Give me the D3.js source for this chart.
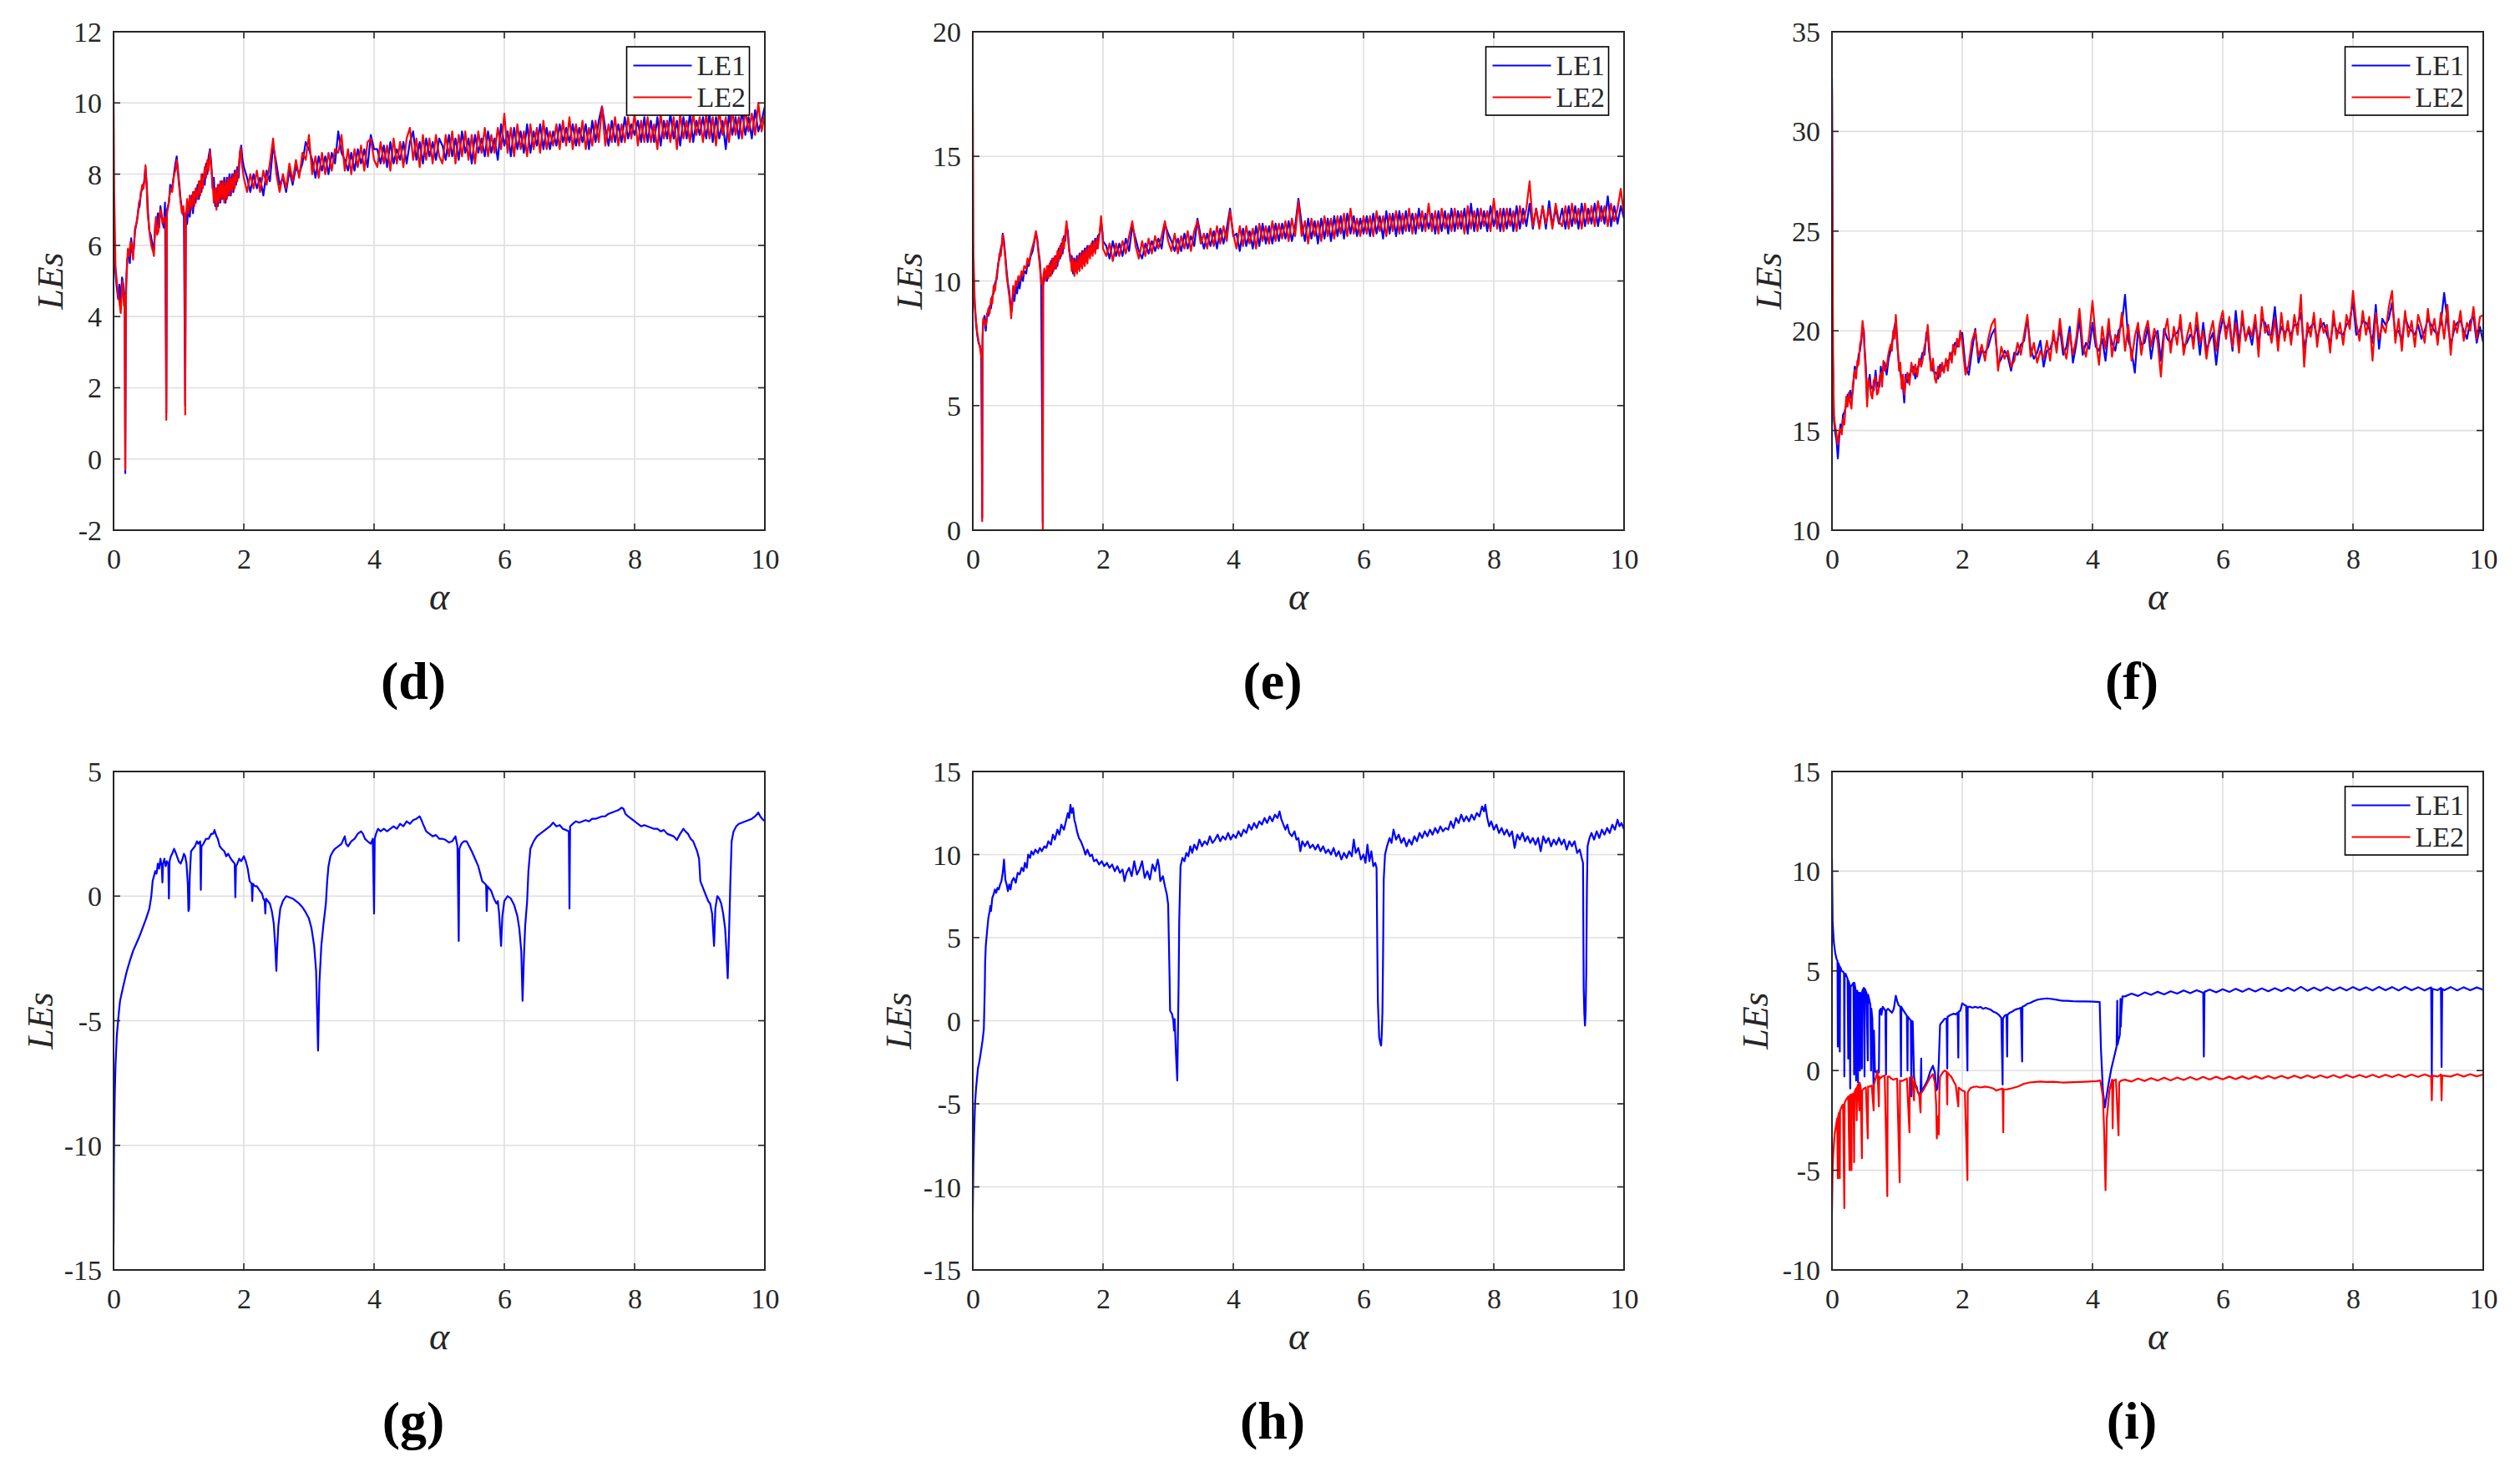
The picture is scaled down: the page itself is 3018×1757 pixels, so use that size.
<!DOCTYPE html>
<html><head><meta charset="utf-8">
<script src="https://cdn.jsdelivr.net/npm/d3@7/dist/d3.min.js"></script>
<style>body{margin:0;background:#fff}svg{display:block}</style>
</head><body>
<svg id="chart" width="3018" height="1757"></svg>
<script>
// ---------------- DATA ----------------
const alphaTicks = [0, 2, 4, 6, 8, 10];
const panelLetters = ["(d)", "(e)", "(f)", "(g)", "(h)", "(i)"];
const seriesNames = ["LE1", "LE2"];
const yTicksD = [-2, 0, 2, 4, 6, 8, 10, 12];
const yTicksE = [0, 5, 10, 15, 20];
const yTicksF = [10, 15, 20, 25, 30, 35];
const yTicksG = [-15, -10, -5, 0, 5];
const yTicksH = [-15, -10, -5, 0, 5, 10, 15];
const yTicksI = [-10, -5, 0, 5, 10, 15];
// sampled tails: alpha = 2.05, 2.10, ..., 10.00
const tailStart = 2.0, tailStep = 0.05;

// (d)
const dLE1Head = [[0,6.8],[0.01,6.0],[0.03,5.2],[0.05,4.8],[0.07,4.5],[0.09,4.9],[0.11,4.3],[0.13,5.1],[0.15,4.9],[0.17,4.4],[0.18,-0.4],[0.19,4.8],[0.21,5.6],[0.23,5.8],[0.25,5.5],[0.27,6.2],[0.29,5.8],[0.31,5.9],[0.33,6.4],[0.36,6.7],[0.38,7.0],[0.4,7.1],[0.42,7.5],[0.45,7.6],[0.47,7.8],[0.49,8.2],[0.51,7.7],[0.53,6.9],[0.55,6.4],[0.57,6.3],[0.6,6.0],[0.62,5.9],[0.64,6.6],[0.66,6.5],[0.68,6.9],[0.7,6.5],[0.72,7.1],[0.74,6.8],[0.77,6.5],[0.79,7.2],[0.81,1.3],[0.82,7.0],[0.85,7.2],[0.87,7.7],[0.9,7.6],[0.92,7.9],[0.95,8.3],[0.97,8.5],[0.99,8.1],[1.01,7.7],[1.03,7.3],[1.05,7.0],[1.08,6.8],[1.1,1.5],[1.11,6.9],[1.13,6.6],[1.15,7.2],[1.17,6.8],[1.2,7.4],[1.22,6.9],[1.24,7.5],[1.26,7.2],[1.29,7.7],[1.31,7.3],[1.33,7.8],[1.35,7.5],[1.37,8.0],[1.4,7.7],[1.42,8.3],[1.44,8.0],[1.46,8.5],[1.48,8.7],[1.5,8.3],[1.52,7.6],[1.54,7.9],[1.56,7.1],[1.58,7.6],[1.6,7.1],[1.62,7.7],[1.64,7.2],[1.66,7.8],[1.68,7.3],[1.7,7.9],[1.72,7.2],[1.74,7.9],[1.76,7.4],[1.78,8.0],[1.8,7.4],[1.82,8.0],[1.84,7.5],[1.86,8.1],[1.88,7.7],[1.9,8.2],[1.92,7.9],[1.94,8.6],[1.96,8.8],[1.98,8.4],[2.0,8.2]];
const dLE1Tail = [
7.9,7.5,8.0,7.6,7.9,7.4,8.1,7.8,8.8,8.3,7.7,7.9,7.5,8.1,7.7,8.2,8.0,8.3,8.9,8.7,
8.4,7.9,8.5,8.1,8.5,8.0,8.6,8.3,9.2,8.6,8.4,8.1,8.6,8.1,8.7,8.3,8.7,8.2,9.1,8.7,
8.7,8.3,8.8,8.2,8.9,8.3,8.7,8.4,8.9,8.3,8.9,9.2,8.4,8.9,8.3,9.0,8.5,8.9,8.4,9.0,
8.8,8.4,9.1,8.5,9.0,8.4,9.2,8.6,9.0,8.3,9.1,8.6,9.0,8.5,9.2,8.6,9.0,8.4,9.4,8.8,
9.2,8.5,9.3,8.7,9.2,8.6,9.4,8.6,9.2,8.8,9.4,8.7,9.3,8.7,9.2,8.8,9.4,8.9,9.3,8.9,
9.4,8.8,9.3,8.9,9.4,8.7,9.5,8.9,9.5,9.9,9.3,8.8,9.5,8.9,9.4,8.9,9.6,9.0,9.4,9.1,
9.5,8.9,9.6,8.9,9.5,8.9,9.6,8.8,9.5,9.0,9.7,9.0,9.5,8.8,9.6,9.0,9.7,8.9,9.5,9.1,
9.6,9.0,9.7,8.9,9.6,9.0,9.5,8.7,9.7,9.1,9.6,9.0,9.8,9.1,9.6,9.0,9.8,9.2,9.5,9.9];
const dLE2Head = [[0,10.3],[0.01,7.5],[0.03,5.4],[0.05,5.0],[0.07,4.6],[0.09,4.4],[0.11,4.1],[0.13,4.8],[0.14,5.0],[0.16,4.3],[0.17,4.6],[0.18,-0.3],[0.19,4.5],[0.2,5.15],[0.22,5.9],[0.24,5.7],[0.26,6.1],[0.28,6.0],[0.3,5.6],[0.33,6.5],[0.35,6.6],[0.37,6.8],[0.39,7.2],[0.41,7.3],[0.44,7.7],[0.46,7.6],[0.48,7.9],[0.49,8.25],[0.51,7.6],[0.52,7.0],[0.54,6.6],[0.56,6.25],[0.58,6.0],[0.61,5.8],[0.62,5.7],[0.64,6.5],[0.65,6.8],[0.67,6.3],[0.69,6.4],[0.71,6.9],[0.73,7.0],[0.75,6.6],[0.78,6.8],[0.8,6.6],[0.81,1.1],[0.82,6.9],[0.84,7.1],[0.86,7.4],[0.88,7.6],[0.9,7.5],[0.93,8.0],[0.95,8.1],[0.97,8.4],[0.99,8.0],[1.01,7.6],[1.03,7.2],[1.05,6.9],[1.07,7.1],[1.09,6.8],[1.1,1.25],[1.11,6.8],[1.13,7.3],[1.15,6.9],[1.17,7.4],[1.2,7.0],[1.22,7.5],[1.24,7.1],[1.26,7.6],[1.29,7.3],[1.31,7.8],[1.33,7.4],[1.35,8.0],[1.37,7.6],[1.4,8.2],[1.42,7.9],[1.44,8.4],[1.46,8.1],[1.48,8.65],[1.5,8.2],[1.52,7.8],[1.54,7.2],[1.56,7.6],[1.58,7.0],[1.6,7.7],[1.62,7.2],[1.64,7.8],[1.66,7.3],[1.68,7.8],[1.7,7.2],[1.72,7.8],[1.74,7.3],[1.76,7.9],[1.78,7.4],[1.8,7.9],[1.82,7.5],[1.84,8.0],[1.86,7.6],[1.88,8.1],[1.9,7.8],[1.92,8.2],[1.95,8.75],[1.97,8.3],[2.0,7.9]];
const dLE2Tail = [
7.5,8.0,7.6,8.1,7.5,8.1,7.7,8.3,9.0,8.0,7.5,8.0,7.6,8.3,7.8,8.4,7.9,8.6,8.4,9.1,
8.0,8.5,7.9,8.6,8.0,8.6,8.1,8.7,8.6,9.1,8.1,8.7,8.0,8.7,8.2,8.8,8.1,8.9,9.0,8.4,
8.2,8.9,8.3,8.8,8.1,9.0,8.3,8.9,8.2,9.0,9.3,8.4,9.0,8.2,9.1,8.4,9.0,8.3,9.1,8.5,
8.3,9.1,8.5,9.2,8.3,9.1,8.5,9.2,8.4,9.1,8.3,9.2,8.6,9.3,8.5,9.1,8.6,9.3,8.7,9.7,
8.6,9.3,8.5,9.4,8.7,9.2,8.5,9.4,8.7,9.3,8.6,9.5,8.7,9.2,8.8,9.4,8.7,9.5,8.8,9.6,
8.7,9.4,8.8,9.5,8.7,9.3,8.8,9.5,8.9,9.9,8.8,9.4,8.9,9.6,8.8,9.4,8.9,9.6,9.0,9.7,
8.8,9.5,8.9,9.6,8.9,9.4,8.7,9.7,9.0,9.5,8.9,9.6,8.7,9.7,9.0,9.5,8.9,9.7,9.1,9.6,
8.9,9.7,9.0,9.6,8.8,9.8,9.1,9.6,8.9,9.8,9.1,9.6,9.0,9.8,9.2,9.7,9.1,10.0,9.2,9.7];

// (e)
const eLE1Head = [[0,11.5],[0.01,10.4],[0.03,9.0],[0.05,8.3],[0.07,7.8],[0.09,7.5],[0.11,7.4],[0.13,7.1],[0.145,0.5],[0.15,7.6],[0.16,8.3],[0.18,8.6],[0.2,8.0],[0.22,8.7],[0.24,8.6],[0.26,9.0],[0.28,8.9],[0.3,9.4],[0.32,9.5],[0.34,9.9],[0.37,10.1],[0.39,10.7],[0.41,10.9],[0.43,11.3],[0.45,11.5],[0.46,11.9],[0.48,11.6],[0.5,11.0],[0.52,10.4],[0.54,9.9],[0.56,9.6],[0.58,9.0],[0.6,8.8],[0.62,9.6],[0.64,9.2],[0.66,9.8],[0.68,9.5],[0.7,10.0],[0.72,9.7],[0.75,10.3],[0.77,10.0],[0.79,10.4],[0.82,10.3],[0.84,10.7],[0.86,10.6],[0.89,11.0],[0.92,11.2],[0.94,11.5],[0.97,11.9],[0.99,11.7],[1.01,11.2],[1.03,10.8],[1.05,10.0],[1.075,0.3],[1.08,9.8],[1.1,10.2],[1.12,10.4],[1.14,10.0],[1.16,10.6],[1.18,10.2],[1.2,10.8],[1.22,10.3],[1.24,10.9],[1.26,10.5],[1.28,11.0],[1.3,10.6],[1.32,11.3],[1.34,10.9],[1.36,11.5],[1.38,11.1],[1.4,11.8],[1.42,11.6],[1.44,12.2],[1.46,12.0],[1.48,11.3],[1.5,10.8],[1.52,11.0],[1.54,10.3],[1.56,10.9],[1.58,10.4],[1.6,11.0],[1.62,10.5],[1.64,11.1],[1.66,10.6],[1.68,11.2],[1.7,10.7],[1.72,11.3],[1.74,10.8],[1.76,11.4],[1.78,11.0],[1.8,11.4],[1.82,11.1],[1.84,11.6],[1.86,11.2],[1.88,11.7],[1.9,11.3],[1.92,11.8],[1.95,11.9],[1.97,12.4],[1.99,12.0],[2.0,11.6]];
const eLE1Tail = [
11.4,10.9,11.6,11.0,11.5,11.0,11.7,11.2,12.2,11.7,11.2,10.9,11.5,11.1,11.6,11.2,11.7,11.3,12.3,11.9,
11.6,11.2,11.7,11.2,11.9,11.3,11.8,11.4,12.5,11.8,11.3,11.9,11.4,12.0,11.3,12.1,11.5,12.1,12.9,11.8,
11.9,11.2,12.1,11.4,12.0,11.3,12.2,11.4,12.3,11.5,12.2,11.5,12.3,11.6,12.3,11.7,12.4,11.6,12.2,13.3,
12.3,11.6,12.5,11.7,12.4,11.5,12.5,11.7,12.5,11.6,12.6,11.8,12.6,11.7,12.7,11.9,12.6,11.8,12.5,11.9,
12.6,11.8,12.7,11.9,12.6,11.7,12.8,11.9,12.7,11.8,12.8,11.9,12.8,12.0,12.7,11.9,12.9,12.0,12.7,12.1,
12.7,11.9,12.8,12.0,12.8,11.9,12.9,12.0,12.8,12.1,12.9,11.9,13.1,12.0,12.9,12.1,12.8,12.0,13.0,12.2,
12.8,12.0,12.9,12.1,12.9,12.0,13.0,12.1,12.9,12.2,13.1,12.1,12.9,12.2,13.0,12.1,13.2,12.2,12.9,12.3,
12.9,12.1,13.0,12.2,13.0,12.1,13.1,12.2,12.9,12.3,13.1,12.2,13.0,12.3,13.4,12.2,13.0,12.3,13.0,12.5];
const eLE2Head = [[0,17.6],[0.01,11.1],[0.03,9.2],[0.05,8.4],[0.07,7.9],[0.09,7.6],[0.11,7.35],[0.13,6.95],[0.14,7.2],[0.145,0.36],[0.15,7.8],[0.16,8.5],[0.18,8.4],[0.2,8.2],[0.22,8.6],[0.24,8.9],[0.26,8.7],[0.28,9.3],[0.3,9.1],[0.32,9.8],[0.34,9.6],[0.37,10.3],[0.39,10.6],[0.41,11.1],[0.43,11.0],[0.45,11.6],[0.46,11.85],[0.48,11.4],[0.5,10.9],[0.52,10.2],[0.54,9.8],[0.56,9.4],[0.58,8.9],[0.59,8.5],[0.61,9.3],[0.62,9.8],[0.64,9.5],[0.66,10.0],[0.68,9.8],[0.7,10.2],[0.72,10.0],[0.75,10.4],[0.77,10.2],[0.79,10.6],[0.82,10.5],[0.84,10.9],[0.86,10.7],[0.89,11.1],[0.92,11.4],[0.94,11.6],[0.97,12.0],[0.99,11.6],[1.01,11.1],[1.03,10.6],[1.05,9.9],[1.07,10.0],[1.075,0.0],[1.08,10.1],[1.1,10.5],[1.12,10.0],[1.14,10.6],[1.16,10.1],[1.18,10.7],[1.2,10.2],[1.22,10.9],[1.24,10.4],[1.26,11.0],[1.28,10.5],[1.3,11.2],[1.32,10.8],[1.34,11.4],[1.36,11.0],[1.38,11.7],[1.4,11.3],[1.42,11.9],[1.44,12.4],[1.46,11.8],[1.48,11.2],[1.5,11.0],[1.52,10.4],[1.54,10.9],[1.56,10.2],[1.58,10.8],[1.6,10.3],[1.62,11.0],[1.64,10.4],[1.66,11.1],[1.68,10.5],[1.7,11.2],[1.72,10.6],[1.74,11.3],[1.76,10.7],[1.78,11.4],[1.8,10.9],[1.82,11.5],[1.84,11.0],[1.86,11.6],[1.88,11.1],[1.9,11.7],[1.92,11.3],[1.95,12.0],[1.97,12.6],[1.99,11.9],[2.0,11.3]];
const eLE2Tail = [
11.0,11.5,10.8,11.5,11.0,11.6,11.1,11.8,12.4,11.4,10.9,11.6,11.0,11.7,11.1,11.8,11.3,11.8,12.4,11.6,
11.2,11.9,11.1,11.8,11.3,12.0,11.2,12.0,12.4,11.5,11.9,11.3,12.1,11.4,12.2,11.5,12.2,11.6,12.8,11.9,
11.3,12.2,11.4,12.2,11.5,12.1,11.3,12.3,11.6,12.2,11.5,12.4,11.6,12.3,11.7,12.4,11.6,12.5,11.8,13.2,
11.8,12.4,11.5,12.5,11.8,12.4,11.6,12.6,11.8,12.5,11.7,12.6,11.9,12.7,11.8,12.9,11.9,12.5,11.8,12.6,
11.9,12.6,11.8,12.8,12.0,12.6,11.8,12.7,12.0,12.8,11.9,12.7,12.0,12.9,11.9,12.7,12.1,12.8,12.0,13.1,
12.0,12.8,11.9,12.9,12.1,12.7,12.0,12.9,12.1,12.8,11.9,13.0,12.1,12.8,12.0,12.9,12.2,12.8,12.0,13.3,
12.1,12.9,12.0,12.9,12.2,12.8,12.0,13.0,12.3,12.9,14.0,12.2,12.9,12.1,13.0,12.3,12.9,12.1,13.1,12.4,
12.2,13.0,12.1,13.1,12.3,12.9,12.1,13.1,12.3,13.0,12.2,13.2,12.4,13.0,12.2,13.1,12.4,12.9,13.7,12.6];

// (f)
const fLE1Head = [[0,32.7],[0.01,23.0],[0.015,18.5],[0.03,15.5],[0.05,14.9],[0.07,14.5],[0.09,13.6],[0.11,14.6],[0.13,15.3],[0.15,15.0],[0.17,15.8],[0.19,15.9],[0.22,16.3],[0.24,16.8],[0.26,16.5],[0.28,17.0],[0.3,16.6],[0.32,17.0],[0.35,18.2],[0.37,18.1],[0.39,18.2],[0.41,18.8],[0.43,19.0],[0.45,19.5],[0.47,20.2],[0.49,20.0],[0.5,19.2],[0.52,18.2],[0.54,16.6],[0.56,17.3],[0.58,17.8],[0.6,17.1],[0.62,17.2],[0.64,17.0],[0.67,18.0],[0.69,17.2],[0.71,17.4],[0.73,17.2],[0.75,18.2],[0.77,17.6],[0.79,18.2],[0.81,18.4],[0.84,17.8],[0.87,18.6],[0.9,19.0],[0.92,19.4],[0.94,19.7],[0.96,20.2],[0.98,20.5],[1.0,19.4],[1.03,18.3],[1.05,17.9],[1.07,17.5],[1.09,17.2],[1.11,16.4],[1.13,17.8],[1.16,17.4],[1.19,17.8],[1.22,18.0],[1.25,18.2],[1.28,17.6],[1.31,18.1],[1.34,18.3],[1.37,18.6],[1.39,18.9],[1.42,18.8],[1.45,19.9],[1.47,20.0],[1.49,19.0],[1.52,18.3],[1.55,18.0],[1.58,17.9],[1.6,17.9],[1.63,17.6],[1.66,18.3],[1.69,18.0],[1.72,18.2],[1.75,18.3],[1.78,18.5],[1.81,18.6],[1.84,18.9],[1.86,19.0],[1.89,19.4],[1.92,19.2],[1.95,19.5],[1.97,19.8],[2.0,19.9]];
const fLE1Tail = [
18.2,17.8,19.0,20.1,18.4,19.0,18.9,19.2,19.8,20.1,18.3,18.6,19.0,18.7,18.0,18.9,18.8,19.3,19.5,20.6,
19.1,18.6,18.9,19.5,18.2,19.0,19.1,19.6,19.3,20.1,18.8,19.2,20.2,18.4,19.3,20.6,18.8,19.4,19.1,20.4,
19.2,19.0,19.6,18.5,20.1,19.4,19.0,20.0,20.3,21.8,19.5,19.0,17.9,20.1,19.3,19.4,20.2,18.6,19.7,20.0,
18.5,20.1,19.6,19.4,19.8,19.9,20.3,19.2,19.4,19.8,19.6,20.3,18.8,20.4,19.0,19.5,19.9,18.3,19.8,20.6,
20.1,20.4,19.0,21.0,19.4,20.6,19.6,20.0,19.3,20.5,19.3,20.6,20.4,19.8,19.8,21.2,19.5,20.2,19.9,20.1,
19.8,20.3,20.3,20.9,19.1,19.9,20.2,20.4,19.6,20.2,20.4,19.8,19.4,20.5,20.0,19.9,19.8,20.3,20.5,21.5,
19.8,20.0,20.5,20.4,20.1,19.4,21.3,19.1,20.6,20.3,20.6,21.4,19.9,20.0,19.5,20.7,20.2,20.0,19.8,20.3,
19.6,20.0,20.6,20.3,20.0,19.8,20.4,21.9,20.5,19.3,20.0,20.4,20.5,20.0,19.6,20.5,20.7,19.4,20.2,19.4];
const fLE2Head = [[0,32.2],[0.01,24.0],[0.015,19.0],[0.03,15.75],[0.05,15.2],[0.07,14.8],[0.09,14.3],[0.11,14.9],[0.13,15.1],[0.15,14.8],[0.17,15.6],[0.19,15.3],[0.22,16.7],[0.24,16.2],[0.26,16.9],[0.28,16.4],[0.3,16.1],[0.32,17.3],[0.35,18.0],[0.37,17.6],[0.39,18.5],[0.41,18.3],[0.43,19.3],[0.45,19.6],[0.47,20.5],[0.49,19.8],[0.5,19.0],[0.52,17.8],[0.54,16.2],[0.56,17.6],[0.58,17.4],[0.6,16.8],[0.62,16.6],[0.64,17.5],[0.67,17.7],[0.69,16.8],[0.71,16.9],[0.73,17.6],[0.75,17.9],[0.77,17.2],[0.79,18.5],[0.81,18.0],[0.84,18.2],[0.87,18.9],[0.9,19.3],[0.92,19.0],[0.94,20.0],[0.96,19.6],[0.98,20.8],[1.0,19.8],[1.03,18.0],[1.05,18.4],[1.07,17.1],[1.09,17.8],[1.11,16.8],[1.13,17.5],[1.16,17.9],[1.19,17.3],[1.22,18.4],[1.25,17.8],[1.28,18.3],[1.31,17.7],[1.34,18.6],[1.37,18.2],[1.39,18.5],[1.42,19.2],[1.45,19.6],[1.47,20.3],[1.49,19.4],[1.52,18.0],[1.55,18.6],[1.58,17.6],[1.6,17.4],[1.63,18.2],[1.66,17.7],[1.69,18.4],[1.72,17.9],[1.75,18.6],[1.78,18.0],[1.81,18.9],[1.84,18.4],[1.86,19.3],[1.89,18.8],[1.92,19.6],[1.95,19.2],[1.97,20.0],[2.0,19.4]];
const fLE2Tail = [
17.8,18.3,19.5,20.0,18.7,19.3,18.5,19.6,20.3,20.6,18.0,19.2,18.6,19.0,18.2,18.5,19.4,18.8,19.8,20.8,
18.7,19.4,18.4,19.0,18.6,19.5,18.5,20.0,18.9,20.6,19.2,18.6,19.9,18.8,19.6,21.1,19.3,18.7,19.8,21.5,
19.6,18.3,20.2,19.1,20.6,18.7,19.8,19.4,20.9,19.0,20.3,18.5,19.7,20.4,18.8,19.9,20.5,19.2,20.1,19.5,
17.7,19.8,20.6,18.9,20.2,19.3,20.8,18.8,19.7,20.4,19.1,20.9,19.4,20.0,18.6,19.8,20.5,19.0,20.3,21.0,
19.6,20.7,19.2,20.4,18.9,21.0,19.5,20.2,19.7,20.8,18.7,21.2,19.9,20.3,19.4,20.6,19.0,20.9,19.5,20.5,
19.3,20.8,19.8,21.8,18.2,20.4,19.7,20.9,19.2,20.6,19.9,20.3,18.9,21.0,19.6,20.4,19.3,20.8,20.1,22.0,
20.4,19.5,21.0,19.8,20.7,18.5,20.9,19.6,20.3,19.9,21.2,22.0,19.4,20.6,19.0,21.0,19.7,20.5,19.2,20.8,
20.2,19.4,21.1,19.8,20.6,19.3,20.9,19.6,21.3,18.8,20.5,19.9,21.0,19.5,20.4,20.0,21.2,19.6,20.7,20.8];

// (g)
const gLE1 = [[0,-14],[0.005,-11],[0.01,-9.5],[0.02,-7.8],[0.03,-6.8],[0.05,-5.6],[0.08,-4.7],[0.1,-4.2],[0.15,-3.6],[0.2,-3.05],[0.25,-2.6],[0.3,-2.2],[0.35,-1.9],[0.4,-1.6],[0.45,-1.25],[0.5,-0.9],[0.55,-0.5],[0.58,0.0],[0.6,0.6],[0.62,0.8],[0.64,1.0],[0.66,0.9],[0.68,1.3],[0.7,1.1],[0.72,1.5],[0.74,1.2],[0.75,0.55],[0.76,1.3],[0.78,1.5],[0.8,1.2],[0.82,1.4],[0.84,1.3],[0.85,-0.1],[0.86,1.4],[0.88,1.6],[0.9,1.7],[0.93,1.9],[0.96,1.7],[1.0,1.4],[1.03,1.3],[1.06,1.5],[1.08,1.7],[1.1,1.6],[1.12,1.3],[1.14,0.5],[1.15,-0.6],[1.16,-0.5],[1.17,0.8],[1.19,1.8],[1.22,1.9],[1.25,2.0],[1.28,2.2],[1.3,2.1],[1.33,2.2],[1.34,0.25],[1.35,2.0],[1.38,2.1],[1.42,2.3],[1.46,2.3],[1.5,2.5],[1.53,2.5],[1.55,2.65],[1.58,2.4],[1.6,2.3],[1.63,2.0],[1.66,1.9],[1.7,1.8],[1.73,1.6],[1.76,1.7],[1.8,1.5],[1.83,1.4],[1.86,1.3],[1.87,-0.05],[1.88,1.2],[1.9,1.3],[1.93,1.5],[1.96,1.4],[2.0,1.6],[2.03,1.4],[2.06,1.1],[2.09,0.6],[2.12,0.5],[2.13,-0.2],[2.14,0.5],[2.17,0.4],[2.2,0.4],[2.25,0.2],[2.28,0.1],[2.3,-0.1],[2.32,-0.2],[2.33,-0.7],[2.34,-0.1],[2.37,-0.2],[2.4,-0.3],[2.43,-0.6],[2.46,-1.1],[2.48,-1.9],[2.5,-3.0],[2.51,-2.2],[2.53,-1.2],[2.56,-0.5],[2.6,-0.2],[2.65,0.0],[2.7,-0.05],[2.75,-0.1],[2.8,-0.2],[2.85,-0.3],[2.9,-0.45],[2.95,-0.65],[3.0,-0.9],[3.04,-1.3],[3.08,-2.0],[3.11,-3.0],[3.14,-6.2],[3.16,-3.5],[3.19,-2.0],[3.22,-1.2],[3.26,-0.3],[3.28,0.6],[3.3,1.2],[3.33,1.6],[3.37,1.8],[3.4,1.9],[3.45,2.0],[3.5,2.1],[3.55,2.4],[3.57,2.1],[3.6,2.0],[3.65,2.2],[3.7,2.3],[3.75,2.5],[3.8,2.6],[3.83,2.5],[3.86,2.3],[3.9,2.2],[3.95,2.1],[3.98,2.3],[4.0,-0.7],[4.01,2.3],[4.03,2.5],[4.06,2.7],[4.1,2.6],[4.15,2.7],[4.2,2.6],[4.25,2.7],[4.3,2.8],[4.35,2.7],[4.4,2.9],[4.45,2.8],[4.5,3.0],[4.55,2.9],[4.6,3.05],[4.65,3.1],[4.7,3.2],[4.72,3.1],[4.75,2.9],[4.8,2.6],[4.85,2.5],[4.9,2.4],[4.95,2.45],[5.0,2.3],[5.05,2.3],[5.1,2.25],[5.15,2.15],[5.2,2.2],[5.25,2.4],[5.28,2.0],[5.3,-1.8],[5.31,1.9],[5.34,2.1],[5.38,2.2],[5.42,2.2],[5.46,2.0],[5.5,1.8],[5.55,1.5],[5.6,1.2],[5.63,0.9],[5.66,0.6],[5.7,0.5],[5.72,0.45],[5.73,-0.6],[5.74,0.4],[5.77,0.3],[5.8,0.2],[5.84,-0.1],[5.88,-0.3],[5.9,-0.2],[5.92,-0.7],[5.95,-2.0],[5.97,-0.8],[6.0,-0.2],[6.05,0.0],[6.1,-0.1],[6.15,-0.35],[6.2,-0.8],[6.23,-1.3],[6.26,-2.2],[6.28,-4.2],[6.3,-2.5],[6.32,-1.2],[6.35,-0.2],[6.37,1.0],[6.4,1.9],[6.45,2.2],[6.5,2.4],[6.55,2.5],[6.6,2.6],[6.65,2.7],[6.7,2.8],[6.75,2.95],[6.8,2.8],[6.85,2.85],[6.9,2.7],[6.95,2.65],[6.99,2.6],[7.0,-0.5],[7.01,2.8],[7.05,2.9],[7.1,3.0],[7.15,2.95],[7.2,3.0],[7.25,3.05],[7.3,3.0],[7.35,3.1],[7.4,3.1],[7.45,3.15],[7.5,3.2],[7.55,3.2],[7.6,3.3],[7.65,3.35],[7.7,3.4],[7.75,3.45],[7.8,3.55],[7.83,3.5],[7.86,3.3],[7.9,3.2],[7.95,3.1],[8.0,3.0],[8.05,2.9],[8.1,2.8],[8.15,2.85],[8.2,2.8],[8.25,2.75],[8.3,2.7],[8.35,2.7],[8.4,2.6],[8.45,2.65],[8.5,2.5],[8.55,2.45],[8.6,2.4],[8.65,2.25],[8.7,2.5],[8.75,2.7],[8.78,2.6],[8.82,2.5],[8.86,2.3],[8.9,2.2],[8.93,2.0],[8.96,1.8],[8.99,1.5],[9.01,0.6],[9.04,0.4],[9.07,0.2],[9.1,0.0],[9.13,-0.2],[9.16,-0.3],[9.19,-0.7],[9.22,-2.0],[9.24,-0.5],[9.27,0.0],[9.3,-0.1],[9.33,-0.3],[9.36,-0.7],[9.39,-1.3],[9.41,-2.2],[9.43,-3.3],[9.45,-1.5],[9.47,0.5],[9.49,2.2],[9.52,2.6],[9.56,2.8],[9.6,2.9],[9.65,2.95],[9.7,3.0],[9.75,3.05],[9.8,3.1],[9.85,3.2],[9.9,3.35],[9.93,3.2],[9.96,3.1],[10.0,3.0]];

// (h)
const hLE1 = [[0,-11.5],[0.01,-8.5],[0.02,-6.9],[0.035,-5.0],[0.05,-4.1],[0.08,-2.85],[0.1,-2.5],[0.12,-2.0],[0.15,-1.2],[0.17,-0.5],[0.185,2.0],[0.19,3.5],[0.2,4.5],[0.22,5.4],[0.24,6.2],[0.26,6.6],[0.27,6.9],[0.28,6.6],[0.3,7.4],[0.32,7.6],[0.34,7.9],[0.36,7.7],[0.38,8.0],[0.4,7.9],[0.42,8.2],[0.44,8.4],[0.46,8.9],[0.48,9.7],[0.5,8.5],[0.52,8.2],[0.54,7.8],[0.56,8.2],[0.58,7.9],[0.6,8.4],[0.63,8.6],[0.66,8.3],[0.69,8.9],[0.72,8.8],[0.75,9.2],[0.78,9.0],[0.8,9.5],[0.83,9.2],[0.85,10.0],[0.88,9.8],[0.9,10.2],[0.93,10.0],[0.96,10.3],[1.0,10.1],[1.03,10.4],[1.06,10.2],[1.1,10.5],[1.13,10.4],[1.16,10.8],[1.2,10.6],[1.23,11.2],[1.26,10.9],[1.3,11.5],[1.33,11.2],[1.36,11.8],[1.4,11.5],[1.43,12.0],[1.46,12.5],[1.48,12.2],[1.5,13.0],[1.52,12.5],[1.54,12.8],[1.56,12.1],[1.58,11.8],[1.6,11.4],[1.63,11.0],[1.66,10.8],[1.7,10.4],[1.73,10.0],[1.76,10.3],[1.8,9.9],[1.83,10.0],[1.86,9.6],[1.9,9.7],[1.94,9.4],[1.98,9.6],[2.02,9.3],[2.06,9.5],[2.1,9.2],[2.14,9.4],[2.18,9.0],[2.22,9.3],[2.26,8.9],[2.3,9.1],[2.33,8.4],[2.36,8.9],[2.4,9.2],[2.44,8.7],[2.48,9.6],[2.52,8.8],[2.56,9.1],[2.6,9.6],[2.64,8.6],[2.68,9.0],[2.72,8.5],[2.76,9.4],[2.8,9.0],[2.84,9.7],[2.86,9.3],[2.88,8.4],[2.92,8.7],[2.95,8.1],[2.98,7.6],[3.0,7.0],[3.02,3.0],[3.03,0.6],[3.06,0.4],[3.08,0.0],[3.09,-0.6],[3.1,0.1],[3.12,-2.0],[3.14,-3.6],[3.16,2.0],[3.17,6.0],[3.19,9.3],[3.22,9.8],[3.25,9.6],[3.28,10.1],[3.31,9.9],[3.34,10.5],[3.37,10.1],[3.4,10.6],[3.44,10.3],[3.48,10.9],[3.52,10.5],[3.56,10.8],[3.6,10.6],[3.64,11.1],[3.68,10.7],[3.72,10.9],[3.76,11.2],[3.8,10.8],[3.84,11.1],[3.88,10.9],[3.92,11.3],[3.96,10.9],[4.0,11.2],[4.04,11.0],[4.08,11.4],[4.12,11.1],[4.16,11.5],[4.2,11.3],[4.24,11.8],[4.28,11.5],[4.32,11.9],[4.36,11.6],[4.4,12.0],[4.44,11.8],[4.48,12.2],[4.52,11.9],[4.56,12.3],[4.6,12.0],[4.64,12.4],[4.68,12.2],[4.71,12.6],[4.74,12.1],[4.77,11.8],[4.8,11.5],[4.83,11.8],[4.86,11.3],[4.9,11.1],[4.94,11.4],[4.97,10.9],[5.0,11.0],[5.03,10.2],[5.06,10.8],[5.1,10.5],[5.14,10.8],[5.18,10.4],[5.22,10.6],[5.26,10.3],[5.3,10.6],[5.34,10.2],[5.38,10.5],[5.42,10.1],[5.46,10.3],[5.5,10.0],[5.54,10.4],[5.58,9.9],[5.62,10.2],[5.66,9.7],[5.7,10.1],[5.74,9.8],[5.78,10.2],[5.82,9.9],[5.85,10.9],[5.88,10.1],[5.92,10.4],[5.96,9.7],[6.0,10.0],[6.03,9.5],[6.06,10.6],[6.09,9.6],[6.12,10.2],[6.15,9.3],[6.18,9.5],[6.2,9.2],[6.21,5.0],[6.22,1.2],[6.24,-1.0],[6.26,-1.4],[6.27,-1.5],[6.28,-0.8],[6.29,0.5],[6.3,4.0],[6.31,8.5],[6.33,10.0],[6.36,10.5],[6.4,11.0],[6.43,10.7],[6.46,11.5],[6.5,10.9],[6.54,11.2],[6.58,10.7],[6.62,11.0],[6.66,10.5],[6.7,10.9],[6.74,10.6],[6.78,11.1],[6.82,10.8],[6.86,11.3],[6.9,11.0],[6.94,11.4],[6.98,11.1],[7.02,11.5],[7.06,11.2],[7.1,11.6],[7.14,11.3],[7.18,11.7],[7.22,11.4],[7.26,11.6],[7.3,11.5],[7.34,12.0],[7.38,11.6],[7.42,12.2],[7.46,11.9],[7.5,12.4],[7.54,12.0],[7.58,12.3],[7.62,12.0],[7.66,12.4],[7.7,12.1],[7.74,12.5],[7.78,12.3],[7.82,12.9],[7.85,12.6],[7.87,13.0],[7.9,12.2],[7.93,11.7],[7.96,12.0],[8.0,11.5],[8.04,11.8],[8.08,11.3],[8.12,11.6],[8.16,11.2],[8.2,11.5],[8.24,11.1],[8.28,11.4],[8.32,10.4],[8.36,11.2],[8.4,10.9],[8.44,11.3],[8.48,10.8],[8.52,11.1],[8.56,10.7],[8.6,11.0],[8.64,10.6],[8.68,11.0],[8.72,10.2],[8.76,11.1],[8.8,10.7],[8.84,11.0],[8.88,10.5],[8.92,10.9],[8.96,10.6],[9.0,11.0],[9.04,10.6],[9.08,10.9],[9.12,10.3],[9.16,10.8],[9.2,10.5],[9.24,10.8],[9.28,10.1],[9.32,10.3],[9.35,9.8],[9.37,9.5],[9.38,2.0],[9.39,0.4],[9.4,-0.3],[9.41,0.5],[9.42,3.0],[9.43,8.0],[9.44,10.5],[9.47,11.0],[9.5,11.3],[9.54,10.9],[9.58,11.4],[9.62,11.0],[9.66,11.5],[9.7,11.2],[9.74,11.6],[9.78,11.3],[9.82,11.8],[9.86,11.5],[9.9,12.1],[9.93,11.7],[9.96,11.9],[10.0,11.5]];

// (i)
const iLE1 = [[0,10.7],[0.005,9.0],[0.01,7.5],[0.02,6.9],[0.03,6.4],[0.05,5.9],[0.07,5.6],[0.085,5.5],[0.09,1.2],[0.095,5.4],[0.11,5.3],[0.12,0.95],[0.125,5.2],[0.15,5.0],[0.17,4.95],[0.185,4.9],[0.19,-0.3],[0.195,4.8],[0.21,4.85],[0.24,4.6],[0.25,0.6],[0.255,4.5],[0.27,4.3],[0.28,-0.9],[0.285,4.2],[0.31,4.3],[0.33,4.4],[0.34,-0.2],[0.345,4.4],[0.36,4.1],[0.37,-0.5],[0.375,4.0],[0.39,4.0],[0.4,-0.6],[0.405,3.9],[0.42,3.9],[0.43,0.0],[0.435,3.9],[0.45,3.85],[0.46,0.1],[0.465,4.0],[0.49,4.15],[0.5,-0.3],[0.505,4.1],[0.53,3.9],[0.55,0.5],[0.555,3.8],[0.57,3.6],[0.59,3.3],[0.6,0.0],[0.605,3.1],[0.62,2.6],[0.64,-1.1],[0.645,2.0],[0.66,0.0],[0.68,-0.1],[0.7,0.0],[0.72,-0.1],[0.73,3.0],[0.75,3.1],[0.76,2.8],[0.78,3.2],[0.8,3.1],[0.82,3.0],[0.83,-0.2],[0.835,3.0],[0.86,3.1],[0.89,3.0],[0.92,2.9],[0.95,3.1],[0.98,3.75],[1.0,3.5],[1.02,3.3],[1.05,3.2],[1.06,-0.3],[1.065,3.2],[1.08,3.1],[1.1,3.0],[1.13,2.85],[1.15,2.75],[1.16,0.0],[1.165,2.7],[1.19,2.6],[1.21,2.5],[1.22,-1.3],[1.225,2.5],[1.24,2.45],[1.26,-0.3],[1.28,-0.7],[1.3,-0.8],[1.32,-1.1],[1.34,-1.2],[1.36,-1.1],[1.37,0.6],[1.375,-1.0],[1.4,-0.9],[1.43,-0.73],[1.47,-0.46],[1.51,-0.04],[1.55,0.24],[1.58,-0.1],[1.6,-1.0],[1.62,-0.9],[1.64,0.38],[1.66,2.3],[1.68,2.4],[1.7,2.47],[1.73,2.6],[1.76,2.6],[1.77,0.1],[1.775,2.7],[1.8,2.75],[1.83,2.8],[1.87,2.85],[1.9,2.82],[1.93,2.9],[1.94,0.65],[1.945,2.95],[1.97,3.0],[2.0,3.37],[2.03,3.3],[2.06,3.25],[2.08,0.0],[2.085,3.2],[2.12,3.2],[2.16,3.15],[2.2,3.2],[2.24,3.15],[2.28,3.2],[2.32,3.1],[2.36,3.15],[2.4,3.1],[2.44,3.05],[2.48,2.95],[2.52,2.9],[2.56,2.8],[2.6,2.65],[2.62,-0.7],[2.625,2.6],[2.65,2.75],[2.68,2.8],[2.69,0.7],[2.695,2.8],[2.73,2.9],[2.77,2.96],[2.81,3.05],[2.86,3.1],[2.9,3.15],[2.92,0.45],[2.925,3.2],[2.96,3.25],[3.0,3.35],[3.05,3.4],[3.1,3.48],[3.15,3.55],[3.2,3.58],[3.25,3.6],[3.3,3.62],[3.35,3.6],[3.4,3.58],[3.45,3.55],[3.5,3.52],[3.55,3.5],[3.6,3.5],[3.7,3.48],[3.8,3.47],[3.9,3.47],[4.0,3.46],[4.06,3.45],[4.11,3.44],[4.13,1.1],[4.16,-1.0],[4.19,-1.85],[4.22,-1.2],[4.25,-0.6],[4.29,0.1],[4.33,0.65],[4.37,1.2],[4.38,3.5],[4.385,1.3],[4.42,1.8],[4.43,3.6],[4.435,2.2],[4.44,2.75],[4.46,3.72],[4.5,3.72],[4.6,3.86],[4.7,3.74],[4.8,3.92],[4.9,3.8],[5.0,3.95],[5.1,3.82],[5.2,3.98],[5.3,3.86],[5.4,4.02],[5.5,3.88],[5.6,4.03],[5.7,3.9],[5.71,0.7],[5.72,3.95],[5.8,4.06],[5.9,3.92],[6.0,4.08],[6.1,3.94],[6.2,4.1],[6.3,3.95],[6.4,4.11],[6.5,3.97],[6.6,4.12],[6.7,3.98],[6.8,4.13],[6.9,3.99],[7.0,4.15],[7.1,4.0],[7.2,4.2],[7.3,4.0],[7.4,4.16],[7.5,4.01],[7.6,4.18],[7.7,4.02],[7.8,4.17],[7.9,4.02],[8.0,4.19],[8.1,4.03],[8.2,4.18],[8.3,4.02],[8.4,4.2],[8.5,4.03],[8.6,4.19],[8.7,4.02],[8.8,4.2],[8.9,4.03],[9.0,4.18],[9.1,4.02],[9.2,4.17],[9.21,-0.25],[9.22,4.1],[9.3,4.03],[9.35,4.15],[9.36,0.18],[9.37,4.1],[9.4,4.03],[9.5,4.19],[9.6,4.02],[9.7,4.18],[9.8,4.03],[9.9,4.17],[10.0,4.05]];
const iLE2 = [[0,-7.1],[0.005,-6.0],[0.01,-5.0],[0.02,-4.2],[0.04,-3.2],[0.06,-2.8],[0.08,-2.4],[0.09,-5.4],[0.095,-2.3],[0.11,-2.1],[0.12,-5.4],[0.125,-2.0],[0.15,-1.8],[0.17,-1.7],[0.19,-6.9],[0.195,-1.6],[0.22,-1.45],[0.25,-1.3],[0.27,-5.0],[0.275,-1.25],[0.29,-1.2],[0.3,-5.0],[0.305,-1.2],[0.33,-1.15],[0.34,-4.6],[0.345,-1.1],[0.37,-0.9],[0.38,-2.5],[0.385,-0.85],[0.4,-0.7],[0.42,-2.0],[0.425,-0.6],[0.44,-0.8],[0.46,-4.4],[0.465,-1.0],[0.49,-0.9],[0.52,-0.85],[0.55,-3.4],[0.555,-0.8],[0.58,-0.8],[0.61,-0.75],[0.64,-2.0],[0.645,-0.7],[0.67,-0.4],[0.7,-0.04],[0.72,-1.8],[0.725,-0.3],[0.74,-0.4],[0.77,-0.3],[0.81,-0.25],[0.85,-6.3],[0.855,-0.3],[0.88,-0.3],[0.91,-0.4],[0.94,-0.46],[0.97,-0.42],[1.0,-0.4],[1.04,-5.6],[1.045,-0.5],[1.08,-0.52],[1.12,-0.45],[1.15,-0.4],[1.19,-3.1],[1.195,-0.35],[1.23,-0.3],[1.26,-1.5],[1.265,-0.5],[1.28,-0.73],[1.31,-1.0],[1.34,-1.22],[1.36,-2.1],[1.365,-1.15],[1.4,-1.0],[1.45,-0.7],[1.49,-0.45],[1.52,-0.3],[1.55,-0.18],[1.58,-0.6],[1.6,-1.7],[1.61,-3.4],[1.62,-2.3],[1.64,-3.2],[1.65,-1.0],[1.66,-0.3],[1.7,-0.1],[1.73,0.0],[1.76,-0.05],[1.77,-1.7],[1.775,-0.1],[1.8,-0.2],[1.83,-0.3],[1.87,-0.55],[1.9,-0.73],[1.94,-1.8],[1.945,-0.85],[1.98,-0.95],[2.0,-1.0],[2.04,-1.05],[2.08,-5.5],[2.085,-1.1],[2.1,-1.0],[2.13,-0.87],[2.18,-0.82],[2.22,-0.8],[2.28,-0.85],[2.35,-0.8],[2.43,-0.85],[2.48,-0.9],[2.52,-1.0],[2.57,-0.95],[2.62,-0.9],[2.63,-3.1],[2.635,-0.95],[2.69,-0.94],[2.77,-0.88],[2.86,-0.8],[2.94,-0.67],[3.03,-0.6],[3.12,-0.57],[3.2,-0.55],[3.3,-0.57],[3.4,-0.56],[3.54,-0.6],[3.7,-0.58],[3.88,-0.56],[4.06,-0.53],[4.12,-0.5],[4.16,-1.3],[4.18,-3.1],[4.2,-6.0],[4.22,-2.4],[4.26,-1.0],[4.3,-0.46],[4.31,-2.9],[4.32,-0.5],[4.36,-0.45],[4.4,-3.25],[4.41,-0.6],[4.44,-0.5],[4.5,-0.46],[4.6,-0.55],[4.7,-0.4],[4.8,-0.52],[4.9,-0.38],[5.0,-0.5],[5.1,-0.36],[5.2,-0.49],[5.3,-0.35],[5.4,-0.47],[5.5,-0.33],[5.6,-0.46],[5.7,-0.32],[5.8,-0.45],[5.9,-0.31],[6.0,-0.44],[6.1,-0.3],[6.2,-0.43],[6.3,-0.29],[6.4,-0.42],[6.5,-0.28],[6.6,-0.41],[6.7,-0.27],[6.8,-0.4],[6.9,-0.26],[7.0,-0.39],[7.1,-0.25],[7.2,-0.38],[7.3,-0.24],[7.4,-0.37],[7.5,-0.24],[7.6,-0.36],[7.7,-0.23],[7.8,-0.36],[7.9,-0.22],[8.0,-0.35],[8.1,-0.22],[8.2,-0.34],[8.3,-0.21],[8.4,-0.34],[8.5,-0.21],[8.6,-0.33],[8.7,-0.2],[8.8,-0.33],[8.9,-0.2],[9.0,-0.32],[9.1,-0.19],[9.2,-0.31],[9.21,-1.5],[9.22,-0.25],[9.3,-0.3],[9.35,-0.2],[9.36,-1.5],[9.37,-0.25],[9.5,-0.3],[9.6,-0.18],[9.7,-0.3],[9.8,-0.18],[9.9,-0.29],[10.0,-0.2]];

// ---------------- BUILD ----------------
function joinSeries(head, tail) {
  return head.concat(tail.map((v, i) => [+(tailStart + (i + 1) * tailStep).toFixed(2), v]));
}
const BLUE = "#0000ff", RED = "#ff0000";
const panels = [
  {label: panelLetters[0], col: 0, row: 0, yDomain: [-2, 12], yTicks: yTicksD, legend: true, ylOff: 76,
   series: [{name: seriesNames[0], color: BLUE, data: joinSeries(dLE1Head, dLE1Tail)}, {name: seriesNames[1], color: RED, data: joinSeries(dLE2Head, dLE2Tail)}]},
  {label: panelLetters[1], col: 1, row: 0, yDomain: [0, 20], yTicks: yTicksE, legend: true, ylOff: 76,
   series: [{name: seriesNames[0], color: BLUE, data: joinSeries(eLE1Head, eLE1Tail)}, {name: seriesNames[1], color: RED, data: joinSeries(eLE2Head, eLE2Tail)}]},
  {label: panelLetters[2], col: 2, row: 0, yDomain: [10, 35], yTicks: yTicksF, legend: true, ylOff: 76,
   series: [{name: seriesNames[0], color: BLUE, data: joinSeries(fLE1Head, fLE1Tail)}, {name: seriesNames[1], color: RED, data: joinSeries(fLE2Head, fLE2Tail)}]},
  {label: panelLetters[3], col: 0, row: 1, yDomain: [-15, 5], yTicks: yTicksG, legend: false, ylOff: 88,
   series: [{name: seriesNames[0], color: BLUE, data: gLE1}]},
  {label: panelLetters[4], col: 1, row: 1, yDomain: [-15, 15], yTicks: yTicksH, legend: false, ylOff: 89,
   series: [{name: seriesNames[0], color: BLUE, data: hLE1}]},
  {label: panelLetters[5], col: 2, row: 1, yDomain: [-10, 15], yTicks: yTicksI, legend: true, ylOff: 92,
   series: [{name: seriesNames[0], color: BLUE, data: iLE1}, {name: seriesNames[1], color: RED, data: iLE2}]}
];

// ---------------- LAYOUT ----------------
const colLeft = [136, 1165, 2194];
const rowTop = [38, 924];
const W = 780, H = 597;
const FONT = "'Liberation Serif','Times New Roman',Times,serif";
const AX = "#262626", GRID = "#dfdfdf";
const fmt = d => String(d);

const svg = d3.select("#chart");
svg.append("rect").attr("width", 3018).attr("height", 1757).attr("fill", "#fff");

panels.forEach((p, pi) => {
  const L = colLeft[p.col], T = rowTop[p.row];
  const x = d3.scaleLinear().domain([0, 10]).range([L, L + W]);
  const y = d3.scaleLinear().domain(p.yDomain).range([T + H, T]);
  const g = svg.append("g");

  // grid
  g.append("g").selectAll("line").data(alphaTicks.slice(1, -1)).join("line")
    .attr("x1", d => x(d)).attr("x2", d => x(d)).attr("y1", T).attr("y2", T + H)
    .attr("stroke", GRID).attr("stroke-width", 1.6);
  g.append("g").selectAll("line").data(p.yTicks.slice(1, -1)).join("line")
    .attr("y1", d => y(d)).attr("y2", d => y(d)).attr("x1", L).attr("x2", L + W)
    .attr("stroke", GRID).attr("stroke-width", 1.6);

  // clip
  const cid = "clip" + pi;
  svg.append("clipPath").attr("id", cid).append("rect")
    .attr("x", L).attr("y", T).attr("width", W).attr("height", H);

  const line = d3.line().x(d => x(d[0])).y(d => y(d[1]));
  const lg = g.append("g").attr("clip-path", `url(#${cid})`);
  p.series.forEach(s => {
    lg.append("path").datum(s.data).attr("d", line)
      .attr("fill", "none").attr("stroke", s.color).attr("stroke-width", 2.2)
      .attr("stroke-linejoin", "round");
  });

  // axes text
  const axB = d3.axisBottom(x).tickValues(alphaTicks).tickSize(0).tickPadding(0).tickFormat(fmt);
  const axisG = g.append("g").attr("transform", `translate(0,${T + H})`).call(axB);
  axisG.select(".domain").remove();
  axisG.selectAll("text").attr("font-family", FONT).attr("font-size", 34).attr("fill", AX)
    .attr("y", 46).attr("dy", 0);
  const axL = d3.axisLeft(y).tickValues(p.yTicks).tickSize(0).tickPadding(14).tickFormat(fmt);
  const axisLG = g.append("g").attr("transform", `translate(${L},0)`).call(axL);
  axisLG.select(".domain").remove();
  axisLG.selectAll("text").attr("font-family", FONT).attr("font-size", 34).attr("fill", AX)
    .attr("dy", "0.34em");

  // tick marks (all four sides, inward)
  const tl = 8;
  const tk = g.append("g").attr("stroke", AX).attr("stroke-width", 1.6);
  alphaTicks.forEach(v => {
    tk.append("line").attr("x1", x(v)).attr("x2", x(v)).attr("y1", T + H).attr("y2", T + H - tl);
    tk.append("line").attr("x1", x(v)).attr("x2", x(v)).attr("y1", T).attr("y2", T + tl);
  });
  p.yTicks.forEach(v => {
    tk.append("line").attr("x1", L).attr("x2", L + tl).attr("y1", y(v)).attr("y2", y(v));
    tk.append("line").attr("x1", L + W).attr("x2", L + W - tl).attr("y1", y(v)).attr("y2", y(v));
  });
  g.append("rect").attr("x", L).attr("y", T).attr("width", W).attr("height", H)
    .attr("fill", "none").attr("stroke", AX).attr("stroke-width", 2);

  // axis labels
  g.append("text").attr("x", L + W / 2).attr("y", T + H + 95)
    .attr("text-anchor", "middle").attr("font-family", FONT).attr("font-style", "italic")
    .attr("font-size", 46).attr("fill", AX).text("α");
  g.append("text").attr("transform", `translate(${L - p.ylOff},${T + H / 2}) rotate(-90)`)
    .attr("text-anchor", "middle").attr("dy", "0.33em").attr("font-family", FONT)
    .attr("font-style", "italic").attr("font-size", 44).attr("fill", AX).text("LEs");

  // panel label
  g.append("text").attr("x", L + 359).attr("y", T + H + 202)
    .attr("text-anchor", "middle").attr("font-family", FONT).attr("font-weight", "bold")
    .attr("font-size", 64).attr("fill", "#000").text(p.label);

  // legend
  if (p.legend) {
    const bw = 147, bh = 82;
    const bx = L + W - 18.5 - bw, by = T + 18;
    const leg = g.append("g");
    leg.append("rect").attr("x", bx).attr("y", by).attr("width", bw).attr("height", bh)
      .attr("fill", "#fff").attr("stroke", "#000").attr("stroke-width", 1.6);
    p.series.forEach((s, i) => {
      const ly = by + 22.6 + i * 37.9;
      leg.append("line").attr("x1", bx + 8).attr("x2", bx + 78).attr("y1", ly).attr("y2", ly)
        .attr("stroke", s.color).attr("stroke-width", 2);
      leg.append("text").attr("x", bx + 84).attr("y", ly).attr("dy", "0.34em")
        .attr("font-family", FONT).attr("font-size", 34).attr("fill", AX).text(s.name);
    });
  }
});
</script>
</body></html>
